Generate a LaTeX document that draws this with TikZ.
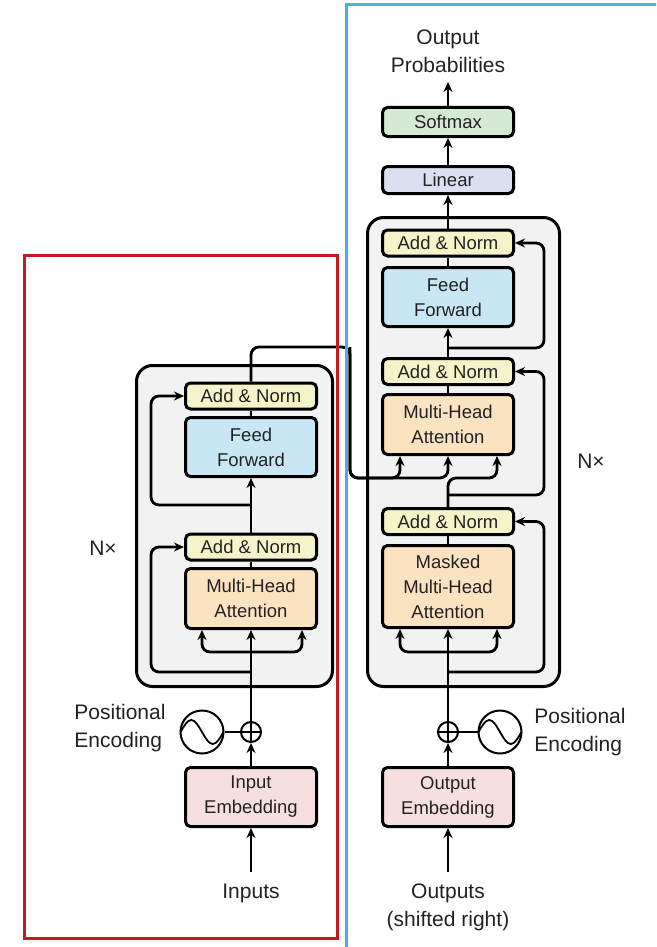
\documentclass[tikz,border=0pt]{standalone}
\usepackage{fontspec}
\setmainfont{Liberation Sans}
\usetikzlibrary{arrows.meta}

\definecolor{ink}{HTML}{222222}
\definecolor{layergray}{HTML}{F2F2F2}
\definecolor{annfill}{HTML}{F3F4C9}
\definecolor{fffill}{HTML}{C8E6F4}
\definecolor{attfill}{HTML}{FBE2C1}
\definecolor{embfill}{HTML}{F7DFDF}
\definecolor{smfill}{HTML}{D5EAD5}
\definecolor{linfill}{HTML}{DCDEF1}
\definecolor{encframe}{HTML}{C8191E}
\definecolor{decframe}{HTML}{4AAEE2}

\newcommand{\bxfont}{\fontsize{18.5}{25}\selectfont}
\newcommand{\lblfont}{\fontsize{21}{28}\selectfont}

\begin{document}
\begin{tikzpicture}[x=1pt,y=-1pt,
  arr/.style={-{Stealth[length=10pt,width=9pt]}},
  conn/.style={line width=2.8pt, rounded corners=8pt},
  blk/.style={draw, line width=3pt, rounded corners=5pt, minimum width=131pt,
              inner sep=0pt, align=center, font=\bxfont, text=ink},
  addnorm/.style={blk, fill=annfill, minimum height=26pt},
  ffbox/.style={blk, fill=fffill, minimum height=59pt},
  attbox/.style={blk, fill=attfill, minimum height=60pt},
  embbox/.style={blk, fill=embfill, minimum height=59pt},
  layerbox/.style={draw, line width=3pt, rounded corners=16pt, fill=layergray, inner sep=0pt},
  lbl/.style={font=\lblfont, align=center, text=ink, inner sep=0pt},
  sumnode/.style={circle, draw, fill=white, line width=2pt, minimum size=20pt, inner sep=0pt},
  posenc/.style={circle, draw, fill=white, line width=2pt, minimum size=43pt, inner sep=0pt},
  frame/.style={line width=3pt},
]
\useasboundingbox (0,0) rectangle (656,947);
\clip (0,0) rectangle (656,947);

% ---------- stacked layers (grey panels) ----------
\node[layerbox, minimum width=196pt, minimum height=321pt] (encLayer) at (234.5,526) {};
\node[layerbox, minimum width=192pt, minimum height=469pt] (decLayer) at (463.5,452) {};

% ---------- encoder ----------
\node[addnorm] (encAN2) at (251,396) {Add \& Norm};
\node[ffbox]   (encFF)  at (251,447) {Feed\\Forward};
\node[addnorm] (encAN1) at (251,547) {Add \& Norm};
\node[attbox]  (encMHA) at (251,598.5) {Multi-Head\\Attention};
\node[sumnode] (encPlus) at (251,732) {};
\node[posenc]  (encPE)   at (202,732) {};
\node[embbox]  (inEmb)  at (251,797) {Input\\Embedding};
\node[lbl] (inputsLbl) at (251,893) {Inputs};
\node[lbl, align=left] (encPELbl) at (120,728) {\fontsize{21}{30}\selectfont Positional\\Encoding};
\node[lbl] (encN) at (103,548) {N×};

% ---------- decoder ----------
\node[blk, fill=smfill, minimum height=29pt] (softmax) at (448,122) {Softmax};
\node[blk, fill=linfill, minimum height=27pt] (linear) at (448,180) {Linear};
\node[addnorm] (decAN3) at (448,243) {Add \& Norm};
\node[ffbox]   (decFF)  at (448,297) {Feed\\Forward};
\node[addnorm] (decAN2) at (448,371.5) {Add \& Norm};
\node[attbox]  (decMHA) at (448,424.5) {Multi-Head\\Attention};
\node[addnorm] (decAN1) at (448,521.5) {Add \& Norm};
\node[attbox, minimum height=82pt] (decMMHA) at (448,586.5) {Masked\\Multi-Head\\Attention};
\node[sumnode] (decPlus) at (448,732) {};
\node[posenc]  (decPE)   at (500,732) {};
\node[embbox]  (outEmb) at (448,797) {Output\\Embedding};
\node[lbl] (outputsLbl) at (448,907.5) {\fontsize{21}{29}\selectfont Outputs\\(shifted right)};
\node[lbl] (outProb) at (448,51) {Output\\Probabilities};
\node[lbl, align=left] (decPELbl) at (580,732) {\fontsize{21}{30}\selectfont Positional\\Encoding};
\node[lbl] (decN) at (591,461) {N×};

% ---------- helper points ----------
\coordinate (inBase)   at (251,872);
\coordinate (outBase)  at (448,872);
\coordinate (probTip)  at (448,82);
\coordinate (encSplit) at (251,652);
\coordinate (encRes1)  at (251,672);
\coordinate (encRes2)  at (251,505);
\coordinate (encOut)   at (350,347);
\coordinate (memL)     at (400,478);
\coordinate (memM)     at (448,478);
\coordinate (qCorner)  at (497,478);
\coordinate (decSplit) at (448,652);
\coordinate (decRes1)  at (448,672);
\coordinate (decRes2)  at (448,495);
\coordinate (decRes3)  at (448,348);

% ---------- positional encodings and sums ----------
\foreach \pe in {encPE,decPE}{
  \draw[line width=1.8pt] ([xshift=-21.5pt]\pe.center) sin ++(10.75,-12) cos ++(10.75,12) sin ++(10.75,12) cos ++(10.75,-12);
}
\foreach \s in {encPlus,decPlus}{
  \draw[line width=1.8pt] (\s.north) -- (\s.south) (\s.west) -- (\s.east);
}
\draw[line width=2.8pt] (encPE.east) -- (encPlus.west);
\draw[line width=2.8pt] (decPE.west) -- (decPlus.east);

% ---------- encoder connectors ----------
\draw[conn, arr] (inBase) -- (inEmb.south);
\draw[conn, arr] (inEmb.north) -- (encPlus.south);
\draw[conn, arr] (encPlus.north) -- (encMHA.south);
\draw[conn, arr] (encSplit) -| ([xshift=-49pt]encMHA.south);
\draw[conn, arr] (encSplit) -| ([xshift=51pt]encMHA.south);
\draw[conn, arr] (encRes1) -| (151,547) -- (encAN1.west);
\draw[conn] (encMHA.north) -- (encAN1.south);
\draw[conn, arr] (encAN1.north) -- (encFF.south);
\draw[conn, arr] (encRes2) -| (151,396) -- (encAN2.west);
\draw[conn] (encFF.north) -- (encAN2.south);
\draw[conn, arr] (encAN2.north) |- (encOut) |- (memL) -- ([xshift=-48pt]decMHA.south);
\draw[conn, arr] (encOut) |- (memM) -- (decMHA.south);

% ---------- decoder connectors ----------
\draw[conn, arr] (outBase) -- (outEmb.south);
\draw[conn, arr] (outEmb.north) -- (decPlus.south);
\draw[conn, arr] (decPlus.north) -- (decMMHA.south);
\draw[conn, arr] (decSplit) -| ([xshift=-48pt]decMMHA.south);
\draw[conn, arr] (decSplit) -| ([xshift=49pt]decMMHA.south);
\draw[conn, arr] (decRes1) -| (544,521.5) -- (decAN1.east);
\draw[conn] (decMMHA.north) -- (decAN1.south);
\draw[conn, arr] (decAN1.north) |- (qCorner) -- ([xshift=49pt]decMHA.south);
\draw[conn, arr] (decRes2) -| (544,371.5) -- (decAN2.east);
\draw[conn] (decMHA.north) -- (decAN2.south);
\draw[conn, arr] (decAN2.north) -- (decFF.south);
\draw[conn, arr] (decRes3) -| (544,243) -- (decAN3.east);
\draw[conn] (decFF.north) -- (decAN3.south);
\draw[conn, arr] (decAN3.north) -- (linear.south);
\draw[conn, arr] (linear.north) -- (softmax.south);
\draw[conn, arr] (softmax.north) -- (probTip);

% ---------- encoder / decoder frames ----------
\draw[frame, draw=encframe] (24,255) rectangle (337,938);
\draw[frame, draw=decframe] (346,5) rectangle (720,1000);
\end{tikzpicture}
\end{document}
